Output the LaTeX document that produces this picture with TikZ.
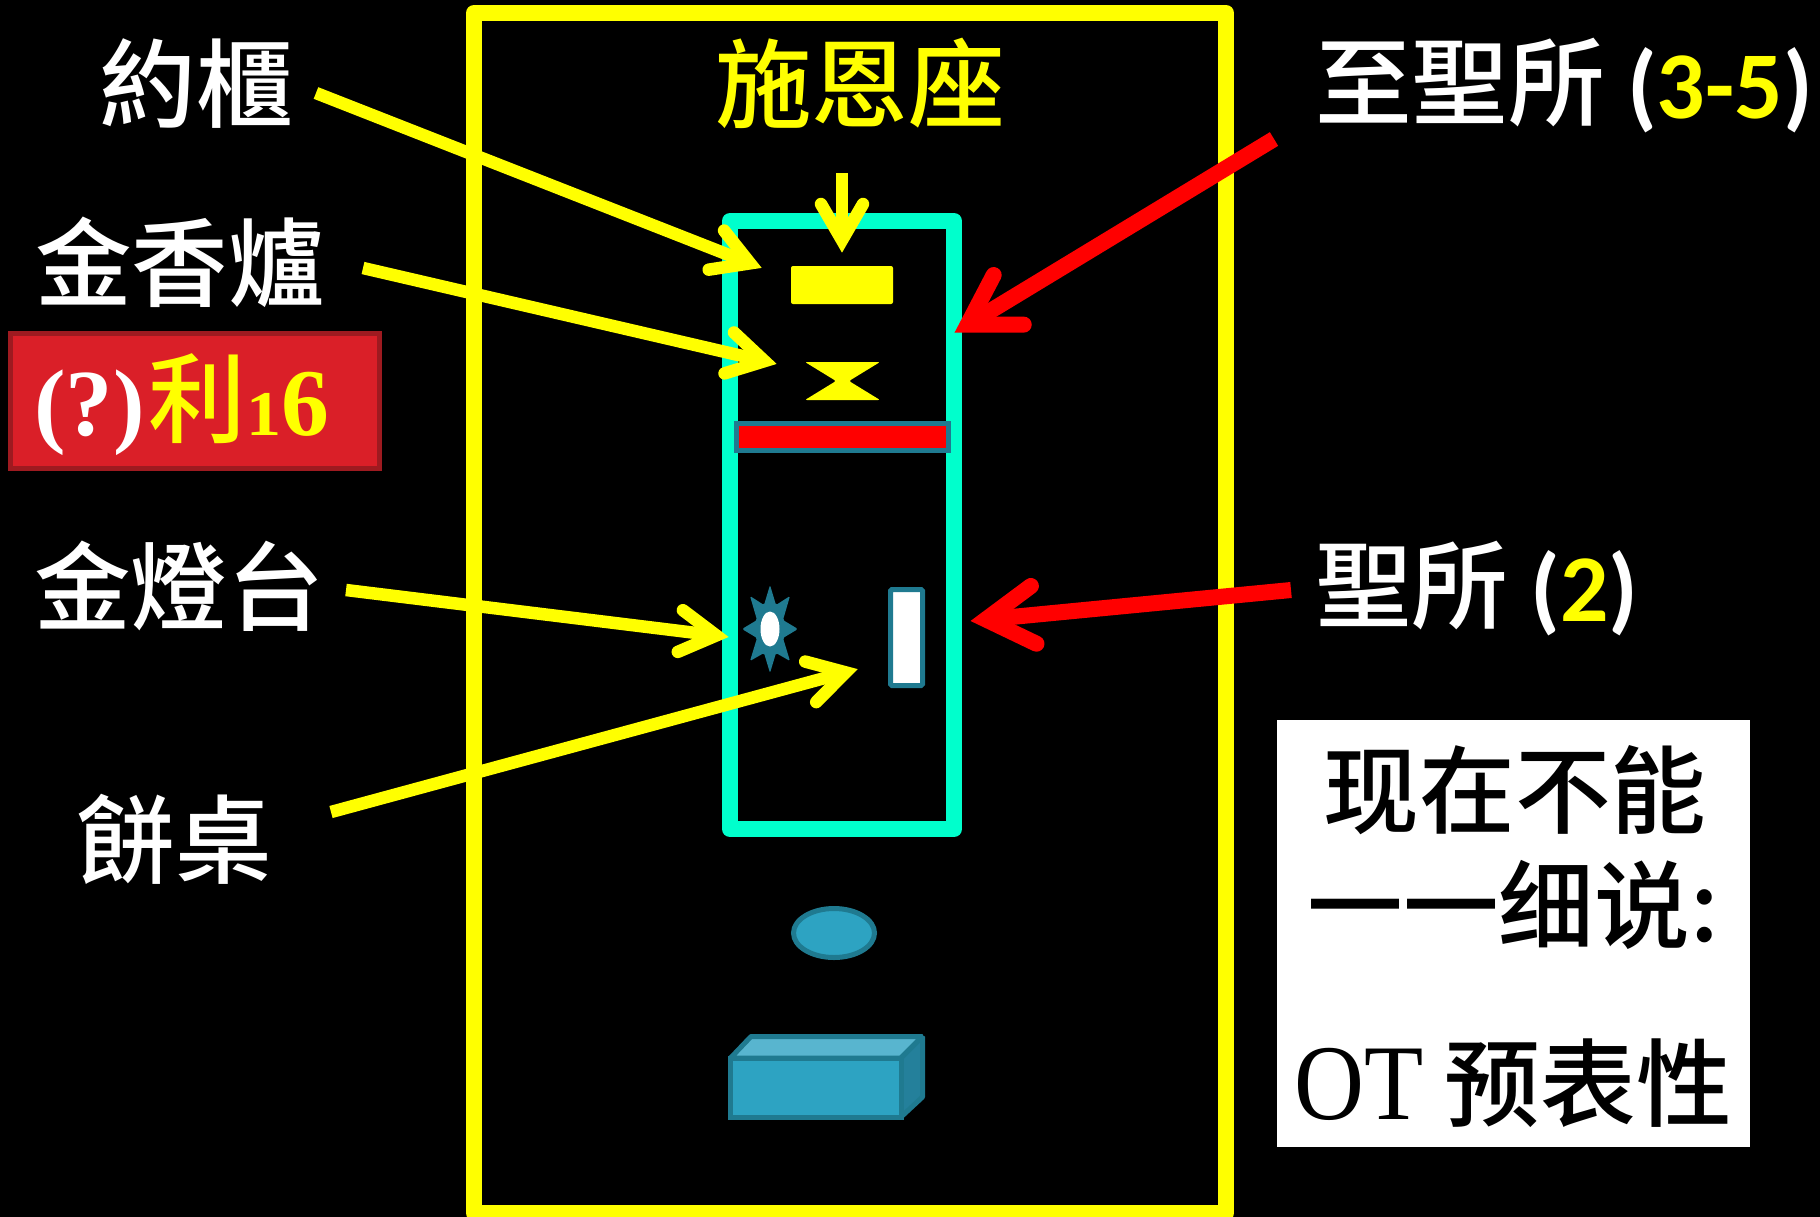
\documentclass[tikz,border=0pt]{standalone}
\usepackage{fontspec}
\usepackage{graphicx}
\usetikzlibrary{calc}
\newfontfamily\tcf{Noto Sans CJK TC Medium}
\newfontfamily\scf{Noto Sans CJK SC Medium}
\newfontfamily\carl{Carlito}
\newfontfamily\lser{Liberation Serif}
\definecolor{ylw}{HTML}{FFFF00}
\definecolor{cyn}{HTML}{00FFCC}
\definecolor{teal1}{HTML}{1F7A90}
\definecolor{blu1}{HTML}{2DA3C2}
\definecolor{blu2}{HTML}{58B5CF}
\definecolor{blu3}{HTML}{24809B}
\definecolor{redfill}{HTML}{DA1F28}
\definecolor{redline}{HTML}{9E1A20}
\tikzset{
  lbl/.style={font=\fontsize{97}{110}\tcf,text=white,inner sep=0pt},
  noteline/.style={font=\fontsize{96}{110}\scf,text=black,inner sep=0pt},
  frameline/.style={draw=#1,line width=16bp,line join=round},
  yarrow/.style={draw=ylw,line width=12.5bp},
  rarrow/.style={draw=red,line width=16bp},
  tealshape/.style={draw=teal1,line width=5bp},
}
% #1 style, #2 start, #3 tip, #4 vertex back, #5 barb back, #6 barb half width
\newcommand{\openarrow}[6]{%
  \draw[#1,line cap=butt] (#2) -- ($(#3)!#4bp!(#2)$);
  \draw[#1,line cap=round,line join=miter]
    ($(#3)!#5bp!(#2)!#6bp!90:(#3)$) -- ($(#3)!#4bp!(#2)$) -- ($(#3)!#5bp!(#2)!#6bp!-90:(#3)$);
}
\begin{document}
\begin{tikzpicture}[x=1bp,y=-1bp]
\useasboundingbox (0,0) rectangle (1820,1216.5);
\fill[black] (0,0) rectangle (1820,1218);

% frames
\draw[frameline=ylw] (474,13) rectangle (1226,1213);
\draw[frameline=cyn] (730,221) rectangle (954,829);

% inner furniture
\fill[ylw,rounded corners=2pt] (791,266) rectangle (893,304);
\fill[ylw,rounded corners=2pt] (805,362) -- (880,362) -- (849,381) -- (880,400) -- (805,400) -- (836,381) -- cycle;
\draw[tealshape,fill=red] (736.5,423.5) rectangle (948.5,450.5);

\fill[teal1,rounded corners=1.5pt] (770,585) -- (776,605) -- (790,596) -- (783,620) -- (798,629) -- (783,638) -- (790,661) -- (776,653) -- (770,673) -- (764,653) -- (750,661) -- (757,638) -- (742,629) -- (757,620) -- (750,596) -- (764,605) -- cycle;
\fill[white] (770,629) ellipse [x radius=9.5,y radius=17.5];

\draw[tealshape,fill=white,rounded corners=1.5pt] (890.5,589.5) rectangle (922.5,685.5);

\draw[tealshape,fill=blu1] (834,933) ellipse [x radius=40.5,y radius=24.5];

% box
\draw[tealshape,fill=blu2,line join=bevel] (730.5,1058) -- (751,1036.5) -- (922.5,1036.5) -- (901,1058) -- cycle;
\draw[tealshape,fill=blu3,line join=bevel] (901,1058) -- (922.5,1036.5) -- (922.5,1097) -- (901,1117) -- cycle;
\draw[tealshape,fill=blu1,line join=miter] (730.5,1058) rectangle (901,1117);

% labels
\node[lbl,name=ark] at (196,84) {約櫃};
\node[lbl,name=incense] at (180,262) {金香爐};
\node[lbl,name=lamp] at (179,586) {金燈台};
\node[lbl,name=bread] at (175,839) {餅桌};
\node[lbl,text=ylw,name=mercy] at (860,83) {施恩座};
\node[lbl,anchor=west,name=holiest] at (1315,86) {至聖所\kern22bp{\carl\bfseries\fontsize{96}{110}\selectfont(\textcolor{ylw}{3-5})}};
\node[lbl,anchor=west,name=holy] at (1315,589) {聖所\kern22bp{\carl\bfseries\fontsize{96}{110}\selectfont(\textcolor{ylw}{2})}};

% red tag
\draw[draw=redline,line width=5bp,fill=redfill] (10,333) rectangle (379,468);
\node[lbl,anchor=base west,name=tag] at (34,435) {{\lser\bfseries\fontsize{95}{100}\selectfont(?)}\kern4bp\textcolor{ylw}{\fontsize{98}{100}\tcf 利{\lser\bfseries\fontsize{64}{100}\selectfont\scalebox{1.1}[1]{1}\fontsize{96}{100}\selectfont 6}}};

% white note
\fill[white] (1277,720) rectangle (1750,1147);
\node[noteline,name=noteA] at (1515,790) {现在不能};
\node[noteline,name=noteB] at (1513,905) {一一细说:};
\node[noteline,name=noteC] at (1513,1083) {{\lser\scalebox{0.9}[1]{\fontsize{108}{110}\selectfont OT}} 预表性};

% connector ends
\coordinate (arkS) at (316,93);       \coordinate (arkT) at (762,268);
\coordinate (incS) at (363,268);      \coordinate (incT) at (777,364);
\coordinate (lampS) at (346,590);     \coordinate (lampT) at (729,637);
\coordinate (breadS) at (331,812);    \coordinate (breadT) at (858,669);
\coordinate (mercyS) at (842,173);    \coordinate (mercyT) at (842,253);
\coordinate (holiestS) at (1274,139); \coordinate (holiestT) at (954,333);
\coordinate (holyS) at (1291,590);    \coordinate (holyT) at (970,621);

\openarrow{yarrow}{arkS}{arkT}{12.8}{49}{21}
\openarrow{yarrow}{incS}{incT}{12.8}{49}{21}
\openarrow{yarrow}{lampS}{lampT}{12.8}{49}{21}
\openarrow{yarrow}{breadS}{breadT}{12.8}{49}{21}
\openarrow{yarrow}{mercyS}{mercyT}{12.8}{49}{21}
\openarrow{rarrow}{holiestS}{holiestT}{16}{64}{29}
\openarrow{rarrow}{holyS}{holyT}{16}{64}{29}
\end{tikzpicture}
\end{document}
